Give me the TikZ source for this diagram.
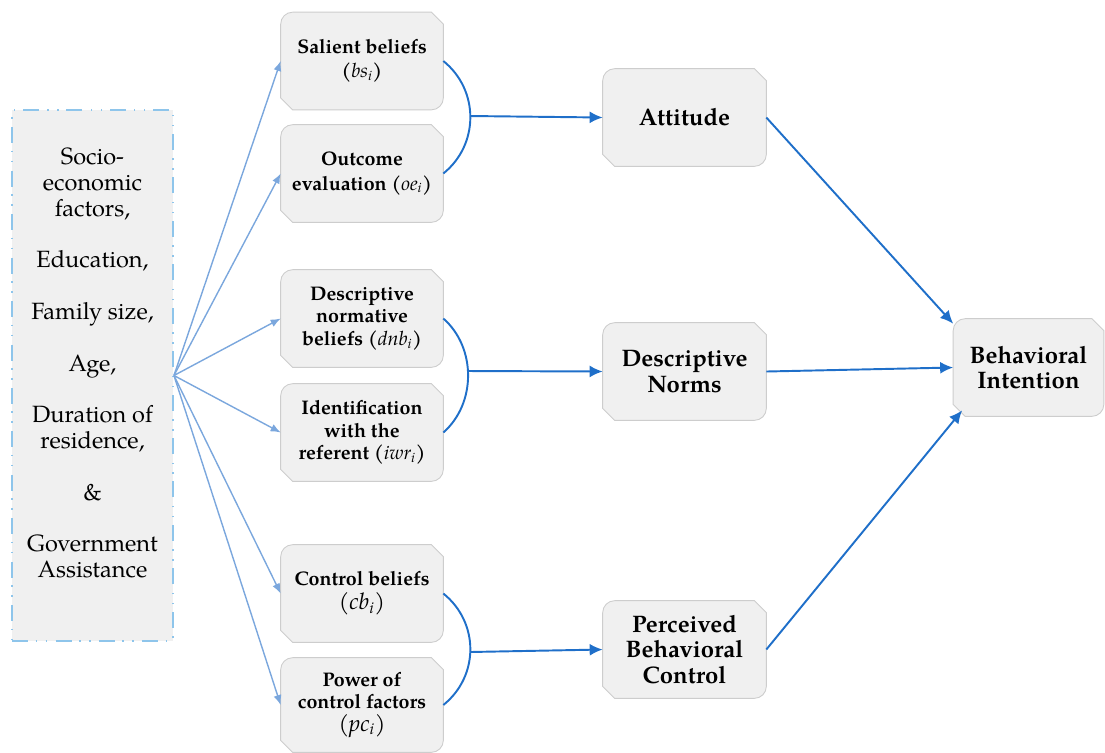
\documentclass[tikz,border=0pt]{standalone}
\usepackage{fontspec}
\setmainfont{TeX Gyre Pagella}
\usetikzlibrary{arrows.meta}
\definecolor{boxfill}{HTML}{F0F0F0}
\definecolor{boxline}{HTML}{CDCDCD}
\definecolor{darkblue}{HTML}{1F6FC9}
\definecolor{lightblue}{HTML}{7BA7DD}
\definecolor{dashblue}{HTML}{8EC5EB}
\pgfdeclarelayer{bg}
\pgfsetlayers{bg,main}
\newcommand\tpbshape[1]{%
  \path[boxshape] (#1.west) [rounded corners=0.24cm] |- (#1.north) [sharp corners]
    -- ([xshift=-0.24cm]#1.north east) -- ([yshift=-0.24cm]#1.north east)
    -- ([yshift=-0.34cm]#1.north east) [rounded corners=0.24cm] |- (#1.south) [sharp corners]
    -- ([xshift=0.24cm]#1.south west) -- ([yshift=0.24cm]#1.south west) -- cycle;}
\newcommand\sub[1]{\textnormal{\textit{#1}}}
\begin{document}
\begin{tikzpicture}[x=0.02cm,y=-0.02cm,
  boxshape/.style={draw=boxline,fill=boxfill,line width=0.5pt},
  midbox/.style={inner sep=0pt,minimum width=3.24cm,minimum height=1.94cm,align=center,
     font=\fontsize{11.2}{13.8}\selectfont\bfseries},
  rightbox/.style={inner sep=0pt,minimum width=3.26cm,minimum height=1.94cm,align=center,
     font=\fontsize{13.6}{14.6}\selectfont\bfseries},
  fan/.style={draw=lightblue,line width=0.8pt,-{Latex[length=0.2cm,width=0.16cm]}},
  main/.style={draw=darkblue,line width=1.1pt,-{Latex[length=0.26cm,width=0.24cm]}},
  arcline/.style={draw=darkblue,line width=1.1pt}]
\useasboundingbox (0,0) rectangle (1105,752);

% left factors box
\node[draw=dashblue,fill=boxfill,line width=1.1pt,
  dash pattern=on 0.32cm off 0.15cm on 0.03cm off 0.17cm on 0.03cm off 0.17cm,
  minimum width=3.22cm,minimum height=10.62cm,inner sep=0pt] (fac) at (92.5,375.5) {};
\node[align=center,font=\fontsize{13.4}{14.7}\selectfont] (factxt) at (92.5,363)
  {Socio-\\economic\\factors,\\[14.7pt]Education,\\[14.7pt]Family size,\\[14.7pt]Age,\\[14.7pt]Duration of\\residence,\\[14.7pt]\&\\[14.7pt]Government\\Assistance};

% middle boxes
\node[midbox] (sal) at (362,61) {Salient beliefs\\(\sub{bs}\textsubscript{\sub{i}})};
\node[midbox] (out) at (362,173.5) {Outcome\\evaluation (\sub{oe}\textsubscript{\sub{i}})};
\node[midbox,font=\fontsize{11.2}{12.8}\selectfont\bfseries] (dnb) at (362,318.5) {Descriptive\\normative\\beliefs (\sub{dnb}\textsubscript{\sub{i}})};
\node[midbox,font=\fontsize{11.2}{12.8}\selectfont\bfseries] (iwr) at (362,432.5) {Identification\\with the\\referent (\sub{iwr}\textsubscript{\sub{i}})};
\node[midbox] (cb) at (362,593.5) {Control beliefs\\{\fontsize{13}{14}\selectfont\sub{(cb}\textsubscript{\sub{i}}\sub{)}}};
\node[midbox,minimum height=1.88cm,font=\fontsize{11.2}{12.8}\selectfont\bfseries] (pc) at (362,705) {Power of\\control factors\\{\fontsize{13}{14}\selectfont\sub{(pc}\textsubscript{\sub{i}}\sub{)}}};

% right boxes
\node[rightbox] (att) at (684.5,117.5) {Attitude};
\node[rightbox] (dn) at (684.5,371.5) {Descriptive\\Norms};
\node[rightbox] (pbc) at (684.5,649.5) {Perceived\\Behavioral\\Control};
\node[rightbox,minimum width=3.0cm] (bi) at (1028.5,367.5) {Behavioral\\Intention};

\begin{pgfonlayer}{bg}
\foreach \n in {sal,out,dnb,iwr,cb,pc,att,dn,pbc,bi}{\tpbshape{\n}}
\end{pgfonlayer}

% fan arrows
\foreach \n in {sal,out,dnb,iwr,cb,pc}{\draw[fan] (fac.east) -- (\n.west);}

% arcs
\draw[arcline] (sal.east) .. controls +(36,29) and +(36,-29) .. (out.east);
\draw[arcline] (dnb.east) .. controls +(33,29) and +(33,-29) .. (iwr.east);
\draw[arcline] (cb.east) .. controls +(36,29) and +(36,-29) .. (pc.east);
\coordinate (j1) at (470,116);
\coordinate (j2) at (467,371);
\coordinate (j3) at (470,652);
\draw[main] (j1) -- (att.west);
\draw[main] (j2) -- (dn.west);
\draw[main] (j3) -- (pbc.west);

% to intention
\draw[main] (att.east) -- ([yshift=-0.1cm]bi.north west);
\draw[main] (dn.east) -- (bi.west);
\draw[main] (pbc.east) -- ([xshift=0.18cm,yshift=0.12cm]bi.south west);
\end{tikzpicture}
\end{document}
